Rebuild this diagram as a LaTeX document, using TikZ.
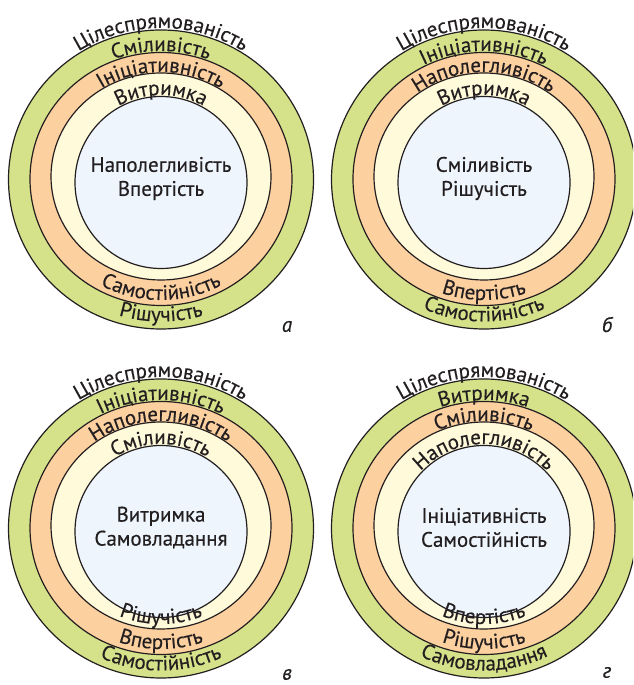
\documentclass[tikz,border=0pt]{standalone}
\usepackage{fontspec}
\setmainfont{PT Sans}[FakeBold=0.3]
\usetikzlibrary{decorations.text}

\definecolor{ringgreen}{HTML}{D6E28A}
\definecolor{ringorange}{HTML}{FDD0A0}
\definecolor{ringcream}{HTML}{FFFADA}
\definecolor{ringblue}{HTML}{EEF5FD}
\definecolor{ink}{HTML}{231F20}

\newcommand\ringfont{\color{ink}\fontsize{21}{24}\selectfont}

% text set along the upper half of an ellipse centred at (0,#1)
\newcommand\arctop[4]{%
  \path[decorate, decoration={text along path, text align=center,
        text={|\ringfont|#4}}]
    (-#2,#1) arc[start angle=180, end angle=0, x radius=#2pt, y radius=#3pt];}
% text set along the lower half of an ellipse centred at (0,#1)
\newcommand\arcbot[4]{%
  \path[decorate, decoration={text along path, text align=center,
        text={|\ringfont|#4}}]
    (-#2,#1) arc[start angle=180, end angle=360, x radius=#2pt, y radius=#3pt];}

% the four nested discs
\newcommand\ringdisk{%
  \filldraw[ring, fill=ringgreen]  (0,3)   ellipse [x radius=152.5pt, y radius=149.5pt];
  \filldraw[ring, fill=ringorange] (0,3.5) ellipse [x radius=131pt, y radius=126.5pt];
  \filldraw[ring, fill=ringcream]  (0,6)   ellipse [x radius=110pt, y radius=103.5pt];
  \filldraw[ring, fill=ringblue]   (0,0)   circle [radius=86pt];}

% band helpers: outer label, green/orange/cream tops, green/orange/cream bottoms
\newcommand\outerlabel[1]{\arctop{3}{154.5}{151.5}{#1}}
\newcommand\greentop[1]{\arctop{3.5}{132.5}{128}{#1}}
\newcommand\orangetop[1]{\arctop{6}{111}{104.5}{#1}}
\newcommand\creamtop[1]{\arctop{0}{87.5}{87.5}{#1}}
\newcommand\greenbot[1]{\arcbot{3}{145}{142}{#1}}
\newcommand\orangebot[1]{\arcbot{3.5}{125.5}{121}{#1}}
\newcommand\creambot[1]{\arcbot{6}{105}{98.5}{#1}}

\begin{document}
\begin{tikzpicture}[x=1pt, y=1pt,
  ring/.style={draw=ink, line width=1.2pt},
  core/.style={align=center, text=ink, font=\fontsize{21}{24}\selectfont},
  tag/.style={text=ink, font=\itshape\fontsize{21}{24}\selectfont}]
\clip (0,0) rectangle (633,685);
\fill[white] (0,0) rectangle (633,685);

% diagram а
\begin{scope}[shift={(161,502.5)}]
  \ringdisk
  \outerlabel{Цілеспрямованість}
  \greentop{Сміливість}
  \orangetop{Ініціативність}
  \creamtop{Витримка}
  \orangebot{Самостійність}
  \greenbot{Рішучість}
  \node[core] (ca) at (0,4) {Наполегливість\\Впертість};
  \node[tag] (la) at (126,-144) {а};
\end{scope}

% diagram б
\begin{scope}[shift={(484,502.5)}]
  \ringdisk
  \outerlabel{Цілеспрямованість}
  \greentop{Ініціативність}
  \orangetop{Наполегливість}
  \creamtop{Витримка}
  \orangebot{Впертість}
  \greenbot{Самостійність}
  \node[core] (cb) at (0,4) {Сміливість\\Рішучість};
  \node[tag] (lb) at (123,-142) {б};
\end{scope}

% diagram в
\begin{scope}[shift={(161,153.5)}]
  \ringdisk
  \outerlabel{Цілеспрямованість}
  \greentop{Ініціативність}
  \orangetop{Наполегливість}
  \creamtop{Сміливість}
  \creambot{Рішучість}
  \orangebot{Впертість}
  \greenbot{Самостійність}
  \node[core] (cv) at (0,4) {Витримка\\Самовладання};
  \node[tag] (lv) at (126,-143) {в};
\end{scope}

% diagram г
\begin{scope}[shift={(484,153.5)}]
  \ringdisk
  \outerlabel{Цілеспрямованість}
  \greentop{Витримка}
  \orangetop{Сміливість}
  \creamtop{Наполегливість}
  \creambot{Впертість}
  \orangebot{Рішучість}
  \greenbot{Самовладання}
  \node[core] (cg) at (0,4) {Ініціативність\\Самостійність};
  \node[tag] (lg) at (123,-141) {г};
\end{scope}
\end{tikzpicture}
\end{document}
